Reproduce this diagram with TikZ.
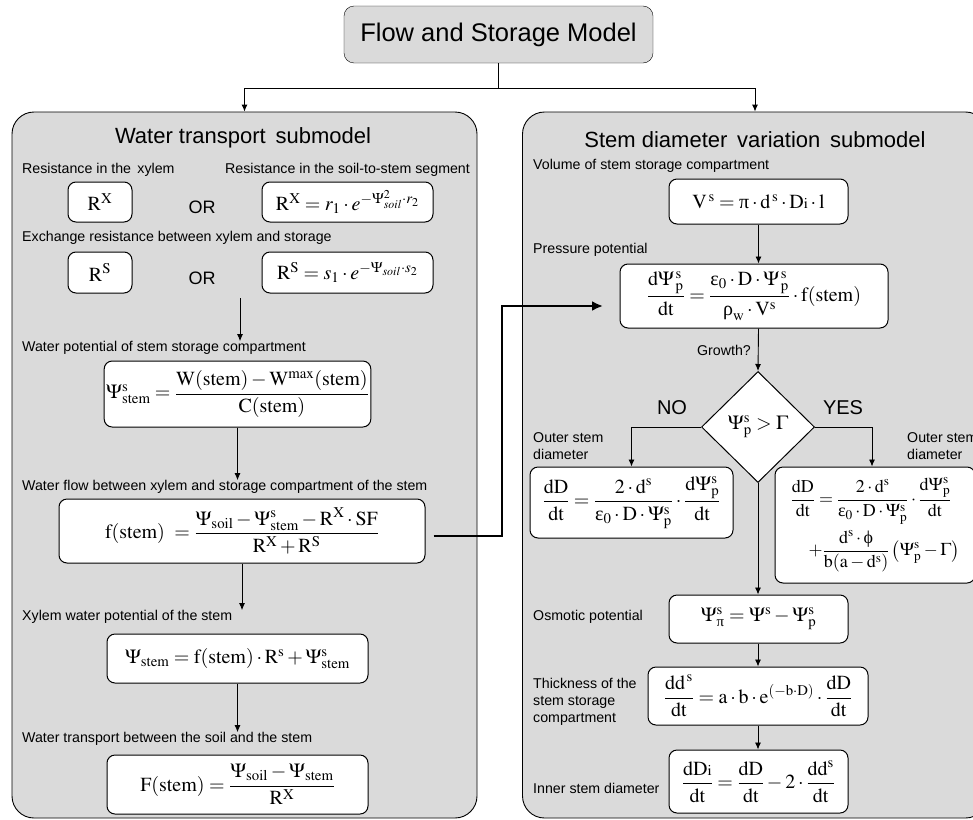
\documentclass[tikz,border=0pt]{standalone}
\usepackage{amsmath}
\usepackage{mathptmx}
\usepackage{fontspec}
\setmainfont{Liberation Serif}
\setsansfont{Liberation Sans}
\usetikzlibrary{arrows.meta,shapes.geometric}

\definecolor{panelgray}{RGB}{218,218,218}
\newcommand\rmx[1]{\mathrm{#1}}
\newcommand\ueps{\text{ε}}
\newcommand\upi{\text{π}}
\newcommand\urho{\text{ρ}}
\newcommand\uphi{\text{ϕ}}

\tikzset{
  panel/.style={draw, fill=panelgray, rounded corners=22pt, line width=0.9pt},
  eqbox/.style={draw, fill=white, rounded corners=8pt, line width=1pt, inner sep=2pt,
    font=\fontsize{20}{24}\selectfont},
  lbl/.style={anchor=west, inner sep=0pt, align=left, font=\sffamily\fontsize{14.2}{17}\selectfont},
  orlbl/.style={font=\sffamily\fontsize{18}{22}\selectfont},
  flow/.style={-{Latex[length=7pt,width=6pt]}, line width=0.9pt},
  bigflow/.style={-{Latex[length=11pt,width=10pt]}, line width=2.2pt},
}

\begin{document}
\begin{tikzpicture}[x=1pt,y=-1pt]

  \useasboundingbox (0,0) rectangle (973,819);

  % top of the model
  \node[draw, fill=panelgray, rounded corners=10pt, minimum width=309, minimum height=57,
    font=\sffamily\fontsize{25.5}{30}\selectfont] (top) at (498.5,34.5) {Flow and Storage Model};

  \node[panel, minimum width=465, minimum height=706] (wpanel) at (244.5,465) {};
  \node[panel, minimum width=465, minimum height=706] (spanel) at (755,465) {};

  \coordinate (split) at (498.5,88);
  \draw[line width=0.9pt] (top.south) -- (split);
  \draw[flow] (split) -| (wpanel.north);
  \draw[flow] (split) -| (spanel.north);

  \node[font=\sffamily\fontsize{22}{26}\selectfont] (wtitle) at (243,138) {Water transport\, submodel};
  \node[font=\sffamily\fontsize{22}{26}\selectfont] (stitle) at (755,140) {Stem diameter\, variation\, submodel};

  % water transport submodel
  \node[lbl] (lrx) at (22,170) {Resistance in the\, xylem};
  \node[lbl] (lrxs) at (225,170) {Resistance in the soil-to-stem segment};
  \node[eqbox, minimum width=64, minimum height=40] (rx) at (100,202) {$\rmx{R}^{\rmx{X}}$};
  \node[orlbl] (or1) at (202,207) {OR};
  \node[eqbox, minimum width=171, minimum height=40] (rxs) at (347.5,202)
    {$\rmx{R}^{\rmx{X}} = r_1\cdot e^{-\Psi^2_{soil}\cdot r_2}$};

  \node[lbl] (lrs) at (22,238) {Exchange resistance between xylem and storage};
  \node[eqbox, minimum width=64, minimum height=41] (rs) at (100,272.5) {$\rmx{R}^{\rmx{S}}$};
  \node[orlbl] (or2) at (202,278) {OR};
  \node[eqbox, minimum width=171, minimum height=41] (rss) at (347.5,272.5)
    {$\rmx{R}^{\rmx{S}} = s_1\cdot e^{-\Psi_{soil}\cdot s_2}$};

  \node[lbl] (lpsis) at (22,348) {Water potential of stem storage compartment};
  \node[eqbox, minimum width=261, minimum height=66] (psis) at (237.5,394)
    {$\Psi^{\rmx{s}}_{\rmx{stem}} = \dfrac{\rmx{W(stem)} - \rmx{W}^{\rmx{max}}\rmx{(stem)}}{\rmx{C(stem)}}$};

  \node[lbl] (lfst) at (22,487) {Water flow between xylem and storage compartment of the stem};
  \node[eqbox, minimum width=366, minimum height=64] (fst) at (242,531)
    {$\rmx{f(stem)}\ = \dfrac{\Psi_{\rmx{soil}} - \Psi^{\rmx{s}}_{\rmx{stem}} - \rmx{R}^{\rmx{X}}\cdot\rmx{SF}}{\rmx{R}^{\rmx{X}} + \rmx{R}^{\rmx{S}}}$};

  \node[lbl] (lpsix) at (22,617) {Xylem water potential of the stem};
  \node[eqbox, minimum width=261, minimum height=49] (psix) at (237.5,658.5)
    {$\Psi_{\rmx{stem}} = \rmx{f(stem)}\cdot\rmx{R}^{\rmx{s}} + \Psi^{\rmx{s}}_{\rmx{stem}}$};

  \node[lbl] (lFst) at (22,739) {Water transport between the soil and the stem};
  \node[eqbox, minimum width=261, minimum height=59] (Fst) at (237.5,784.5)
    {$\rmx{F(stem)} = \dfrac{\Psi_{\rmx{soil}} - \Psi_{\rmx{stem}}}{\rmx{R}^{\rmx{X}}}$};

  \coordinate (rsout) at (240,298);
  \draw[flow] (rsout) -- (rsout |- lpsis.north);
  \draw[flow] (psis.south) -- (psis.south |- lfst.north);
  \draw[flow] (fst.south) -- (fst.south |- lpsix.north);
  \draw[flow] (psix.south) -- (psix.south |- lFst.north);

  % stem diameter variation submodel
  \node[lbl] (lvs) at (533,166) {Volume of stem storage compartment};
  \node[eqbox, minimum width=179, minimum height=45] (vs) at (758.5,201.5)
    {$\rmx{V}^{\,\rmx{s}} = \upi\cdot\rmx{d}^{\,\rmx{s}}\cdot\rmx{D}{\scriptstyle\rmx{i}}\cdot\rmx{l}$};

  \node[lbl] (lpp) at (533,250) {Pressure potential};
  \node[eqbox, minimum width=268, minimum height=64] (pp) at (754,296)
    {$\dfrac{\rmx{d}\Psi^{\,\rmx{s}}_{\,\rmx{p}}}{\rmx{dt}} = \dfrac{\ueps_0\cdot\rmx{D}\cdot\Psi^{\,\rmx{s}}_{\,\rmx{p}}}{\urho_{\rmx{w}}\cdot\rmx{V}^{\rmx{s}}}\cdot\rmx{f(stem)}$};

  \node[draw, fill=white, diamond, aspect=1, minimum width=113, minimum height=111, inner sep=0pt,
    line width=1pt, font=\fontsize{20}{24}\selectfont] (dia) at (758,427) {$\Psi^{\rmx{s}}_{\rmx{p}} > \Gamma$};
  \node[lbl, anchor=east] (grow) at (751,350) {Growth?};
  \node[orlbl, font=\sffamily\fontsize{20}{24}\selectfont] (no) at (672,408) {NO};
  \node[orlbl, font=\sffamily\fontsize{20}{24}\selectfont] (yes) at (843,408) {YES};

  \node[lbl] (lno) at (533,446) {Outer stem\\diameter};
  \node[lbl] (lyes) at (907,446) {Outer stem\\diameter};

  \node[eqbox, minimum width=203, minimum height=71] (nobox) at (631.5,502.5)
    {$\dfrac{\rmx{dD}}{\rmx{dt}} = \dfrac{2\cdot\rmx{d}^{\rmx{s}}}{\ueps_0\cdot\rmx{D}\cdot\Psi^{\rmx{s}}_{\rmx{p}}}\cdot\dfrac{\rmx{d}\Psi^{\rmx{s}}_{\rmx{p}}}{\rmx{dt}}$};
  \node[eqbox, minimum width=200, minimum height=116, font=\fontsize{18}{21}\selectfont] (yesbox) at (875,525)
    {$\begin{array}{l}
      \displaystyle\frac{\rmx{dD}}{\rmx{dt}} = \frac{2\cdot\rmx{d}^{\rmx{s}}}{\ueps_0\cdot\rmx{D}\cdot\Psi^{\rmx{s}}_{\rmx{p}}}\cdot\frac{\rmx{d}\Psi^{\rmx{s}}_{\rmx{p}}}{\rmx{dt}}\\[20pt]
      \quad\displaystyle +\frac{\rmx{d}^{\rmx{s}}\cdot\uphi}{\rmx{b(a-d^s)}}\left(\Psi^{\rmx{s}}_{\rmx{p}} - \Gamma\right)
    \end{array}$};

  \node[lbl] (losm) at (533,617) {Osmotic potential};
  \node[eqbox, minimum width=179, minimum height=48] (osm) at (758.5,619)
    {$\Psi^{\rmx{s}}_{\upi} = \Psi^{\rmx{s}} - \Psi^{\rmx{s}}_{\rmx{p}}$};

  \node[lbl] (lthk) at (533,702) {Thickness of the\\stem storage\\compartment};
  \node[eqbox, minimum width=220, minimum height=58] (thk) at (758,696)
    {$\dfrac{\rmx{dd}^{\,\rmx{s}}}{\rmx{dt}} = \rmx{a}\cdot\rmx{b}\cdot\rmx{e}^{(-\rmx{b}\cdot\rmx{D})}\cdot\dfrac{\rmx{dD}}{\rmx{dt}}$};

  \node[lbl] (linn) at (533,788) {Inner stem diameter};
  \node[eqbox, minimum width=179, minimum height=63] (inn) at (758.5,781.5)
    {$\dfrac{\rmx{dD}{\scriptstyle\rmx{i}}}{\rmx{dt}} = \dfrac{\rmx{dD}}{\rmx{dt}} - 2\cdot\dfrac{\rmx{dd}^{\rmx{s}}}{\rmx{dt}}$};

  \draw[flow] (vs.south) -- (vs.south |- pp.north);
  \draw[flow] (vs.south |- pp.south) -- (dia.north);
  \draw[flow] (dia.west) -| (nobox.north);
  \draw[flow] (dia.east) -| (yesbox.north -| 872,0);
  \draw[flow] (dia.south) -- (osm.north -| dia.south);
  \draw[flow] (dia.south |- osm.south) -- (dia.south |- thk.north);
  \draw[flow] (dia.south |- thk.south) -- (dia.south |- inn.north);

  % link between the two submodels
  \coordinate (bend) at (502,306);
  \draw[bigflow] ([xshift=8pt,yshift=-5pt]fst.east) -| (bend) -- ++(101,0);

\end{tikzpicture}
\end{document}
